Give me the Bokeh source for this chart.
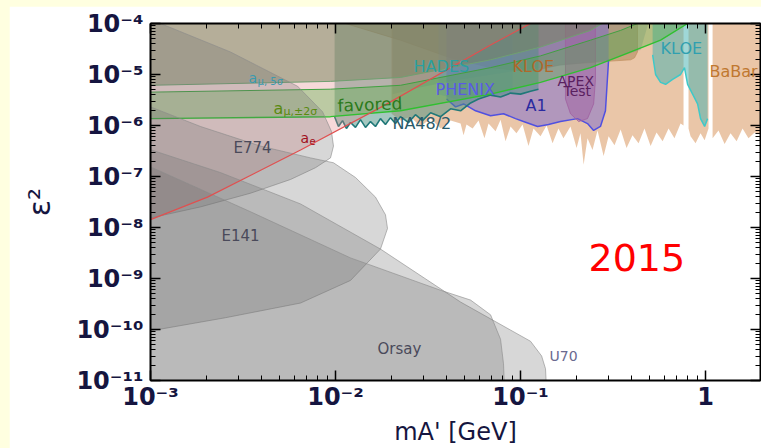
import numpy as np
from bokeh.plotting import figure
from bokeh.models import Range1d, LogAxis, FixedTicker, Label, CustomJSTickFormatter, GlobalInlineStyleSheet
from bokeh.embed import file_html
from bokeh.resources import INLINE

# ---------------- axis data ----------------
x_major = [1e-3, 1e-2, 1e-1, 1.0]
x_major_labels = ["10\u207b\u00b3", "10\u207b\u00b2", "10\u207b\u00b9", "1"]
y_major = [1e-11, 1e-10, 1e-9, 1e-8, 1e-7, 1e-6, 1e-5, 1e-4]
y_major_labels = ["10\u207b\u00b9\u00b9", "10\u207b\u00b9\u2070", "10\u207b\u2079", "10\u207b\u2078",
                  "10\u207b\u2077", "10\u207b\u2076", "10\u207b\u2075", "10\u207b\u2074"]
x_minor = [k * 10.0 ** n for n in range(-3, 1) for k in range(2, 10)]
y_minor = [k * 10.0 ** n for n in range(-11, -4) for k in range(2, 10)]
x_title = "mA' [GeV]"
y_title = "\u03b5\u00b2"

# ---------------- exclusion regions (log10 m [GeV], log10 eps^2) ----------------
E774_logm = [-3.108, -2.946, -2.568, -2.205, -2.070, -2.022, -2.011, -2.027, -2.108, -2.243, -2.459, -2.730, -3.108]
E774_logeps2 = [-3.95, -4.0, -4.558, -5.231, -5.731, -6.115, -6.404, -6.635, -6.827, -7.058, -7.327, -7.596, -7.90]

E141_logm = [-3.108, -2.730, -2.405, -2.135, -2.011, -1.892, -1.784, -1.730, -1.719, -1.757, -1.919, -2.189, -2.595, -3.108]
E141_logeps2 = [-5.481, -6.019, -6.404, -6.635, -6.731, -7.019, -7.404, -7.750, -8.019, -8.423, -9.038, -9.481, -9.769, -10.096]

U70_logm = [-3.108, -2.622, -2.189, -1.757, -1.324, -0.946, -0.886, -0.865, -0.859, -3.108]
U70_logeps2 = [-6.346, -6.923, -7.538, -8.423, -9.462, -10.231, -10.519, -10.769, -11.2, -11.2]

Orsay_logm = [-3.108, -2.459, -1.919, -1.432, -1.270, -1.162, -1.108, -1.092, -1.086, -3.108]
Orsay_logeps2 = [-6.635, -7.692, -8.596, -9.231, -9.423, -9.712, -10.192, -10.673, -11.2, -11.2]

ae_logm = [-3.108, -3.0, -2.692, -2.189, -1.741, -1.162, -0.946, -0.827]
ae_logeps2 = [-8.0, -7.846, -7.404, -6.481, -5.615, -4.423, -4.0, -3.75]

amu5_logm = [-3.108, -3.0, -2.027, -1.649, -1.162, -0.892, -0.622, -0.514]
amu5_logeps2 = [-5.22, -5.212, -5.135, -5.058, -4.712, -4.462, -4.135, -3.904]

fav_up_logm = [-3.108, -3.0, -2.027, -1.649, -1.162, -0.892, -0.622, -0.459, -0.368, -0.297]
fav_up_logeps2 = [-5.35, -5.346, -5.288, -5.212, -4.865, -4.635, -4.327, -4.135, -4.0, -3.846]
fav_lo_logm = [-3.108, -3.0, -2.027, -1.649, -1.162, -0.892, -0.622, -0.459, -0.243, -0.097, -0.027]
fav_lo_logeps2 = [-5.87, -5.865, -5.827, -5.712, -5.385, -5.154, -4.865, -4.635, -4.327, -4.0, -3.846]

NA48_logm = [-2.005, -2.005, -1.984, -1.962, -1.941, -1.919, -1.892, -1.865, -1.838, -1.811, -1.784, -1.757,
             -1.730, -1.703, -1.676, -1.649, -1.605, -1.568, -1.530, -1.486, -1.432, -1.378, -1.324, -1.270,
             -1.227, -1.162, -1.108, -1.054, -1.000, -0.946, -0.903, -0.903]
NA48_logeps2 = [-3.5, -5.827, -6.019, -5.904, -6.058, -5.942, -6.038, -5.885, -6.038, -5.923, -6.019, -5.865,
                -5.981, -5.846, -5.962, -5.827, -5.942, -5.788, -5.904, -5.750, -5.827, -5.673, -5.712, -5.558,
                -5.481, -5.404, -5.442, -5.365, -5.385, -5.327, -5.288, -3.5]

HADES_logm = [-1.692, -1.692, -1.541, -1.324, -1.054, -0.784, -0.514, -0.351, -0.270]
HADES_logeps2 = [-3.5, -5.385, -5.250, -5.096, -4.942, -4.827, -4.712, -4.519, -3.5]

KLOE_logm = [-1.984, -1.946, -1.649, -1.378, -1.162, -0.946, -0.784, -0.568, -0.405, -0.384, -0.368, -0.368]
KLOE_logeps2 = [-3.5, -4.0, -4.327, -4.673, -4.865, -4.942, -4.808, -4.750, -4.712, -4.673, -4.558, -3.5]

PHENIX_logm = [-1.443, -1.443, -1.351, -1.243, -1.135, -1.043, -1.043]
PHENIX_logeps2 = [-3.5, -5.385, -5.481, -5.442, -5.404, -5.327, -3.5]

A1_logm = [-1.400, -1.400, -1.351, -1.308, -1.243, -1.162, -1.092, -1.027, -0.984, -0.908, -0.849, -0.784,
           -0.692, -0.638, -0.605, -0.568, -0.541, -0.524, -0.524]
A1_logeps2 = [-3.5, -5.481, -5.635, -5.577, -5.712, -5.808, -5.769, -5.865, -5.923, -6.019, -5.981, -5.923,
              -5.865, -5.962, -6.096, -6.019, -5.712, -4.712, -3.5]

APEX_logm = [-0.757, -0.757, -0.730, -0.686, -0.638, -0.605, -0.595, -0.595]
APEX_logeps2 = [-3.5, -5.481, -5.769, -5.923, -5.865, -5.577, -5.096, -3.5]

BaBar1_logm = [-1.697, -1.697, -1.649, -1.595, -1.541, -1.486, -1.432, -1.378, -1.324, -1.308, -1.292, -1.259,
               -1.227, -1.195, -1.173, -1.135, -1.108, -1.081, -1.054, -1.022, -0.989, -0.957, -0.930, -0.892,
               -0.859, -0.827, -0.795, -0.768, -0.730, -0.697, -0.676, -0.659, -0.638, -0.611, -0.584, -0.551,
               -0.524, -0.492, -0.459, -0.427, -0.395, -0.362, -0.330, -0.297, -0.265, -0.232, -0.200, -0.168,
               -0.135, -0.119, -0.119]
BaBar1_logeps2 = [-3.5, -5.769, -5.904, -5.827, -6.019, -5.865, -6.058, -5.904, -5.962, -6.192, -5.981, -6.058,
                  -5.904, -6.250, -5.962, -6.115, -5.885, -6.308, -6.019, -6.154, -5.981, -6.404, -6.058, -6.212,
                  -6.000, -6.346, -6.058, -6.250, -6.019, -6.442, -6.154, -6.769, -6.250, -6.481, -6.096, -6.596,
                  -6.212, -6.385, -6.077, -6.442, -6.192, -6.346, -6.058, -6.404, -6.135, -6.308, -6.058, -6.250,
                  -5.962, -6.0, -3.5]
BaBar2_logm = [-0.092, -0.092, -0.081, -0.054, -0.027, -0.005, 0.016, 0.016]
BaBar2_logeps2 = [-3.5, -6.058, -6.212, -6.346, -6.154, -6.288, -6.058, -3.5]
BaBar3_logm = [0.038, 0.038, 0.070, 0.103, 0.135, 0.168, 0.200, 0.232, 0.265, 0.351, 0.351]
BaBar3_logeps2 = [-3.5, -6.250, -6.096, -6.365, -6.154, -6.308, -6.058, -6.250, -6.135, -6.212, -3.5]

KLOE2_logm = [-0.286, -0.286, -0.270, -0.243, -0.216, -0.178, -0.135, -0.114, -0.097, -0.070, -0.043, -0.027,
              -0.005, 0.011, 0.011]
KLOE2_logeps2 = [-3.5, -4.615, -5.0, -5.154, -5.192, -5.096, -5.0, -4.865, -5.192, -5.385, -5.577, -5.865,
                 -6.019, -5.865, -3.5]


def pw(a):
    return 10.0 ** np.asarray(a, dtype=float)


page_css = GlobalInlineStyleSheet(css=(
    "html, body { background-color: #ffffe0 !important; }"
    "body { margin: 0 !important; padding: 6px 0 0 9px !important; box-sizing: border-box; overflow: hidden; }"))

p = figure(width=752, height=442, x_axis_type="log", y_axis_type="log",
           x_range=Range1d(1e-3, 10 ** 0.297), y_range=Range1d(1e-11, 1e-4),
           output_backend="svg", toolbar_location=None,
           min_border_left=141, min_border_right=1, min_border_top=17, min_border_bottom=61)
p.stylesheets = [page_css]
p.xgrid.visible = False
p.ygrid.visible = False
p.outline_line_color = "black"
p.background_fill_color = "white"
p.border_fill_color = "white"

# ---- colored regions ----
p.patch(pw(BaBar1_logm), pw(BaBar1_logeps2), fill_color="#d89860", fill_alpha=0.55, line_color=None)
p.patch(pw(BaBar2_logm), pw(BaBar2_logeps2), fill_color="#d89860", fill_alpha=0.55, line_color=None)
p.patch(pw(BaBar3_logm), pw(BaBar3_logeps2), fill_color="#d89860", fill_alpha=0.55, line_color=None)
p.patch(pw(KLOE_logm), pw(KLOE_logeps2), fill_color="#a07848", fill_alpha=0.45, line_color="#c09060", line_alpha=0.7)
p.patch(pw(HADES_logm), pw(HADES_logeps2), fill_color="#7a8a8a", fill_alpha=0.3, line_color=None)
p.patch(pw(PHENIX_logm), pw(PHENIX_logeps2), fill_color="#7090e8", fill_alpha=0.3, line_color=None)
p.patch(pw(A1_logm), pw(A1_logeps2), fill_color="#7868d0", fill_alpha=0.5, line_color=None)
p.line(pw(A1_logm[1:-1]), pw(A1_logeps2[1:-1]), line_color="#5050e0", line_width=1.5)
p.patch(pw(APEX_logm), pw(APEX_logeps2), fill_color="#a05aa0", fill_alpha=0.45, line_color="#a060a0", line_width=0.8)
p.patch(pw(KLOE2_logm), pw(KLOE2_logeps2), fill_color="#40b0b0", fill_alpha=0.5, line_color=None)
p.line(pw(KLOE2_logm[1:-1]), pw(KLOE2_logeps2[1:-1]), line_color="#40c8c8", line_width=1.5)
p.patch(pw(NA48_logm), pw(NA48_logeps2), fill_color="#4a9080", fill_alpha=0.5, line_color=None)
p.line(pw(NA48_logm[1:-1]), pw(NA48_logeps2[1:-1]), line_color="#207878", line_width=1.6)

# a_e region (above red line)
p.patch(pw(ae_logm + [ae_logm[-1], -3.108]), pw(ae_logeps2 + [-3.5, -3.5]),
        fill_color="#e08080", fill_alpha=0.3, line_color=None)
# a_mu 5 sigma region
p.patch(pw(amu5_logm + [-0.45, -3.108]), pw(amu5_logeps2 + [-3.5, -3.5]),
        fill_color="#74845a", fill_alpha=0.5, line_color=None)
p.line(pw(amu5_logm), pw(amu5_logeps2), line_color="#70a070", line_width=1)
# favored band
p.patch(pw(fav_up_logm + fav_lo_logm[::-1]), pw(fav_up_logeps2 + fav_lo_logeps2[::-1]),
        fill_color="#50b040", fill_alpha=0.35, line_color=None)
p.line(pw(fav_up_logm), pw(fav_up_logeps2), line_color="#40a040", line_width=1)
p.line(pw(fav_lo_logm), pw(fav_lo_logeps2), line_color="#30c030", line_width=1.4)

# beam dumps
for lm, le in [(E774_logm, E774_logeps2), (E141_logm, E141_logeps2),
               (U70_logm, U70_logeps2), (Orsay_logm, Orsay_logeps2)]:
    p.patch(pw(lm), pw(le), fill_color="#707070", fill_alpha=0.28,
            line_color="#8a8a8a", line_alpha=0.6, line_width=1)

p.line(pw(ae_logm), pw(ae_logeps2), line_color="#e05050", line_width=1.2)

# ---------------- axes ----------------
FONT = "DejaVu Sans"
TXT = "#151540"
blank = CustomJSTickFormatter(code="return ''")


def style_axis(ax, ticks, minor, labels=None, standoff=6):
    ax.ticker = FixedTicker(ticks=ticks, minor_ticks=minor)
    ax.axis_line_width = 2
    ax.axis_line_color = "black"
    ax.major_tick_in = 10
    ax.major_tick_out = 0
    ax.minor_tick_in = 5
    ax.minor_tick_out = 0
    ax.major_tick_line_width = 1.5
    ax.major_tick_line_color = "black"
    ax.minor_tick_line_color = "black"
    ax.minor_tick_line_width = 1
    if labels is None:
        ax.formatter = blank
        ax.major_label_text_font_size = "1px"
        ax.major_label_standoff = 0
    else:
        ax.major_label_overrides = dict(zip(ticks, labels))
        ax.major_label_text_font = FONT
        ax.major_label_text_font_style = "bold"
        ax.major_label_text_font_size = "24px"
        ax.major_label_text_color = TXT
        ax.major_label_standoff = standoff


style_axis(p.xaxis[0], x_major, x_minor, x_major_labels, standoff=2)
style_axis(p.yaxis[0], y_major, y_minor, y_major_labels, standoff=7)
p.xaxis[0].axis_label = x_title
p.xaxis[0].axis_label_text_font = FONT
p.xaxis[0].axis_label_text_font_style = "normal"
p.xaxis[0].axis_label_text_font_size = "24px"
p.xaxis[0].axis_label_text_color = TXT
p.xaxis[0].axis_label_standoff = 4
p.yaxis[0].axis_label = y_title
p.yaxis[0].axis_label_text_font = FONT
p.yaxis[0].axis_label_text_font_style = "normal"
p.yaxis[0].axis_label_text_font_size = "30px"
p.yaxis[0].axis_label_text_color = TXT
p.yaxis[0].axis_label_standoff = 16

top_ax = LogAxis()
right_ax = LogAxis()
style_axis(top_ax, x_major, x_minor)
style_axis(right_ax, y_major, y_minor)
p.add_layout(top_ax, "above")
p.add_layout(right_ax, "right")

# region labels
labels = [
    ("E774", 2.81e-3, 3.6e-7, "15px", "#4a4a5a", 0),
    ("E141", 2.42e-3, 6.7e-9, "15px", "#4a4a5a", 0),
    ("Orsay", 0.01686, 4.1e-11, "15px", "#4a4a5a", 0),
    ("U70", 0.1435, 3.0e-11, "14px", "#6a6a90", 0),
    ("HADES", 0.02642, 1.43e-5, "16px", "#2aa0a0", 0),
    ("KLOE", 0.0906, 1.43e-5, "16px", "#b0682a", 0),
    ("PHENIX", 0.0347, 5.15e-6, "16px", "#5a5ae6", 0),
    ("A1", 0.1064, 2.43e-6, "16px", "#2a2aa0", 0),
    ("APEX", 0.1585, 7.33e-6, "14px", "#5a2060", 0),
    ("Test", 0.1707, 4.71e-6, "14px", "#5a2060", 0),
    ("NA48/2", 0.0203, 1.09e-6, "16px", "#2a5a6a", 0),
    ("KLOE", 0.5715, 3.30e-5, "16px", "#30a0b0", 0),
    ("BaBar", 1.05, 1.14e-5, "16px", "#c07830", 0),
    ("favored", 0.01026, 2.43e-6, "17px", "#2a7a1a", 0.04),
]
for t, x, y, s, c, a in labels:
    p.add_layout(Label(x=x, y=y, text=t, text_font=FONT, text_font_size=s, text_color=c,
                       angle=a, text_baseline="alphabetic"))

subs = [
    ("a", "\u03bc,\u00b12\u03c3", 4.62e-3, 2.12e-6, "16px", "11px", "#5a8a10", 10),
    ("a", "\u03bc, 5\u03c3", 3.39e-3, 8.37e-6, "14px", "10px", "#3a9ab0", 9),
    ("a", "e", 6.47e-3, 5.6e-7, "14px", "10px", "#a01020", 9),
]
for base, sub, x, y, s1, s2, c, off in subs:
    p.add_layout(Label(x=x, y=y, text=base, text_font=FONT, text_font_size=s1, text_color=c,
                       text_baseline="alphabetic"))
    p.add_layout(Label(x=x, y=y, x_offset=off, y_offset=-3, text=sub, text_font=FONT, text_font_size=s2,
                       text_color=c, text_baseline="alphabetic"))

p.add_layout(Label(x=0.233, y=2.54e-9, text="2015", text_font=FONT, text_font_size="38px",
                   text_color="#ff0000", text_baseline="alphabetic"))

open("out.html", "w").write(file_html(p, INLINE))
